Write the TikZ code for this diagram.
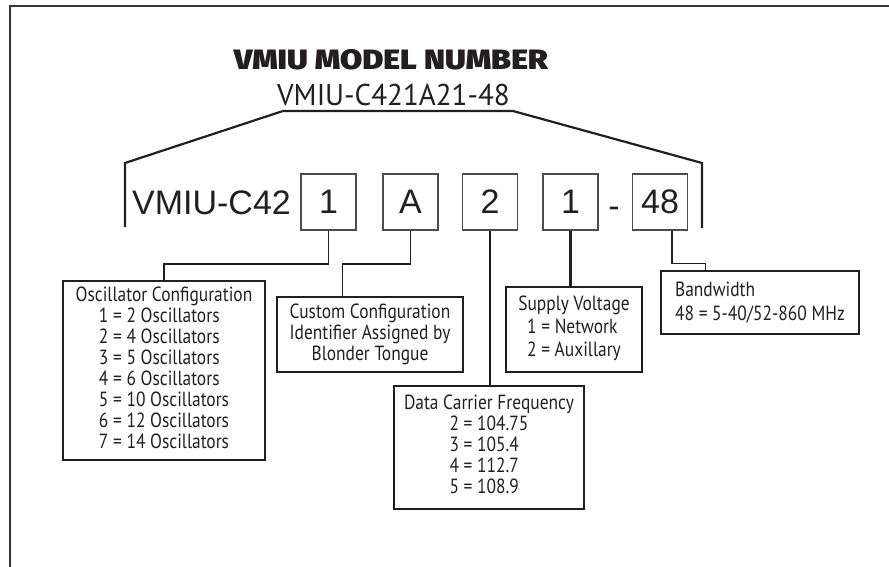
\documentclass[tikz,border=0pt]{standalone}
\usepackage{fontspec}
\setmainfont{PT Sans}
\newfontfamily\bodyfont[FakeStretch=0.85]{PT Sans}
\newfontfamily\subfont[FakeStretch=0.97]{PT Sans}
\newfontfamily\titlefont[FakeStretch=1.15]{Fira Sans Black}
\newfontfamily\codefont{Liberation Sans}
\definecolor{ink}{HTML}{231F20}
\tikzset{
  frameline/.style={line width=2.6pt, draw=ink!90},
  bracketline/.style={line width=2.2pt, draw=ink},
  digitbox/.style={draw=ink!80, line width=1.1pt, minimum width=55pt, minimum height=56pt, inner sep=0pt, font=\codefont\fontsize{34}{36}\selectfont, text=ink},
  descbox/.style={draw=ink, line width=1.3pt, inner sep=0pt, font=\bodyfont\fontsize{20.5}{21}\selectfont, text=ink},
  thinlink/.style={line width=1.3pt, draw=ink},
  thicklink/.style={line width=2.6pt, draw=ink},
}
\begin{document}
\begin{tikzpicture}[x=1pt,y=-1pt]
\useasboundingbox (0,0) rectangle (889,567);
% frame (cropped: left and top edges)
\draw[frameline] (10,567) -- (10,6) -- (889,6);
% titles
\node[font=\titlefont\fontsize{28}{30}\selectfont, text=ink] (title) at (391,60) {VMIU MODEL NUMBER};
\node[font=\subfont\fontsize{30}{32}\selectfont, text=ink] (sub) at (393.5,95.5) {VMIU-C421A21-48};
% bracket
\draw[bracketline] (125,227) -- (125,163) -- (283,111) -- (513,111) -- (702,163) -- (702,228);
% code
\node[font=\codefont\fontsize{34}{36}\selectfont, text=ink, inner sep=0pt] (prefix) at (211.5,202.5) {VMIU-C42};
\node[digitbox] (b1) at (328.5,202) {1};
\node[digitbox] (bA) at (410.5,202) {A};
\node[digitbox] (b2) at (490,202) {2};
\node[digitbox] (b1b) at (570.5,202) {1};
\node[font=\codefont\fontsize{34}{36}\selectfont, text=ink, inner sep=0pt] (dash) at (614,212) {-};
\node[digitbox] (b48) at (660,202) {48};
% description boxes
\node[descbox, minimum width=202pt, minimum height=179pt, align=center] (osc) at (164,370.5)
  {Oscillator Configuration\\
   \begin{tabular}[t]{@{}l@{}}1 = 2 Oscillators\\2 = 4 Oscillators\\3 = 5 Oscillators\\4 = 6 Oscillators\\5 = 10 Oscillators\\6 = 12 Oscillators\\7 = 14 Oscillators\end{tabular}};
\node[descbox, minimum width=186pt, minimum height=75pt, align=center] (custom) at (370,334.5)
  {Custom Configuration\\Identifier Assigned by\\Blonder Tongue};
\node[descbox, minimum width=190pt, minimum height=123pt, align=center] (data) at (489,447.5)
  {Data Carrier Frequency\\
   \begin{tabular}[t]{@{}l@{}}2 = 104.75\\3 = 105.4\\4 = 112.7\\5 = 108.9\end{tabular}};
\node[descbox, minimum width=136pt, minimum height=85pt, align=center, font=\bodyfont\fontsize{20.5}{23}\selectfont] (supply) at (574,329.5)
  {Supply Voltage\\
   \begin{tabular}[t]{@{}l@{}}1 = Network\\2 = Auxillary\end{tabular}};
\node[descbox, minimum width=198pt, minimum height=63pt, align=left, font=\bodyfont\fontsize{20.5}{24}\selectfont] (band) at (760,302.5)
  {Bandwidth\\48 = 5-40/52-860 MHz};
% connectors
\draw[thinlink] (b1.south) -- ++(0,33.5) -| (osc.north);
\draw[thinlink] (bA.south) -- ++(0,33.5) -| ([xshift=66pt]custom.north west);
\draw[thicklink] (b2.south) -- (b2.south |- data.north);
\draw[thicklink] (b1b.south) -- (b1b.south |- supply.north);
\draw[thinlink] ([xshift=12pt]b48.south) -- ++(0,33) -| ([xshift=45pt]band.north west);
\end{tikzpicture}
\end{document}
